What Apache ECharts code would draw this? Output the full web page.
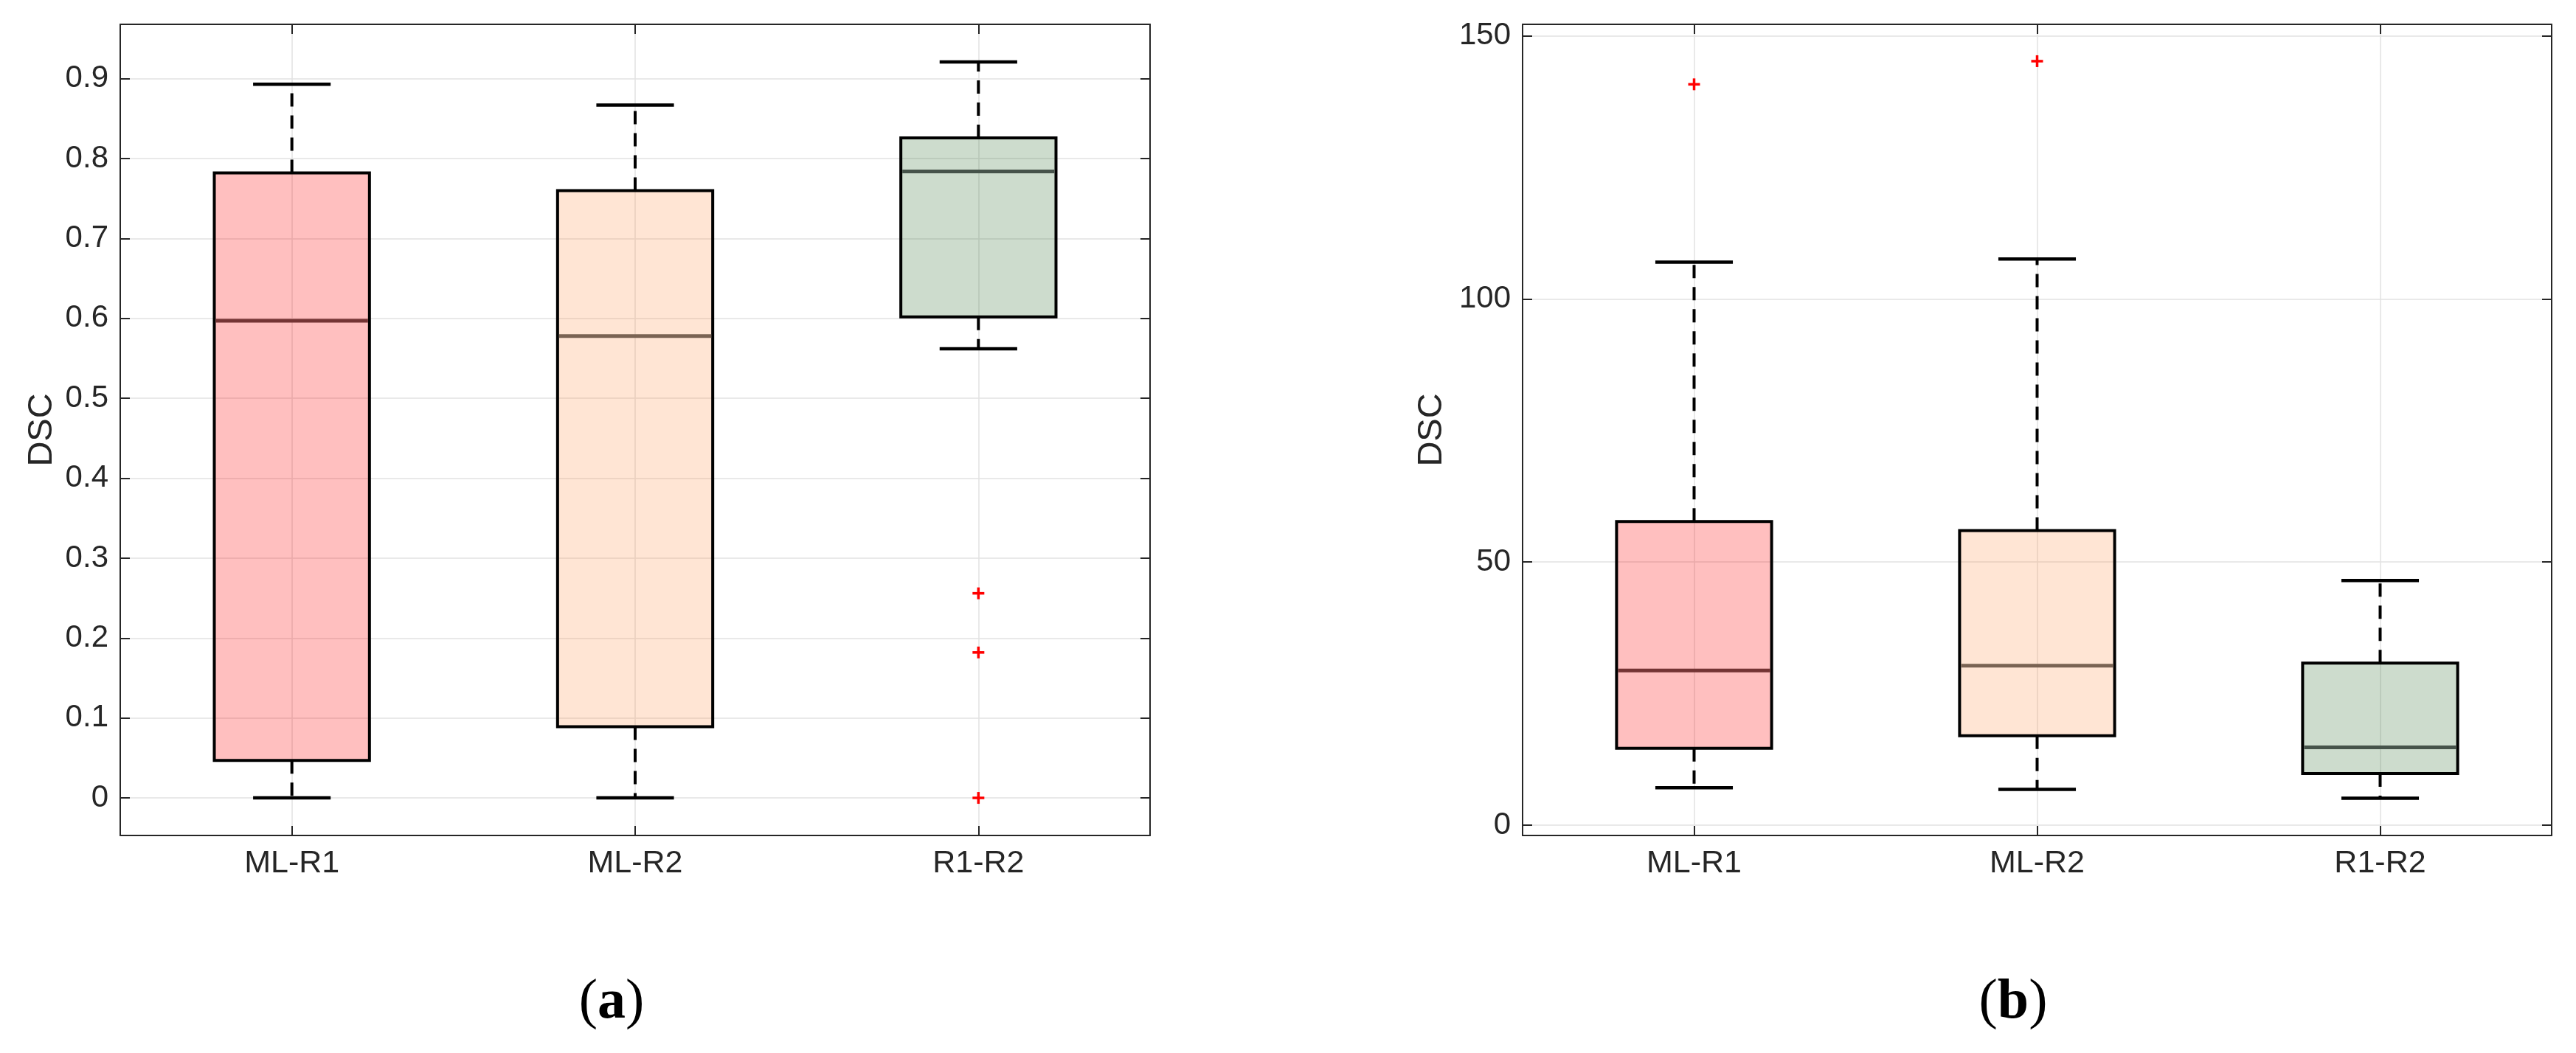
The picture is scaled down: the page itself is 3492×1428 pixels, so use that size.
<!DOCTYPE html>
<html><head><meta charset="utf-8">
<script src="https://cdn.jsdelivr.net/npm/echarts@6/dist/echarts.min.js"></script>
<style>html,body{margin:0;padding:0;background:#fff}#c{width:3492px;height:1428px}</style>
</head><body><div id="c"></div>
<script>
// ---------- data ----------
const categories = ['ML-R1', 'ML-R2', 'R1-R2'];
const panelLetters = ['a', 'b'];
const yAxisName = 'DSC';

// panel (a)
const aMin    = [0.000, 0.000, 0.562];
const aQ1     = [0.047, 0.089, 0.602];
const aMedian = [0.597, 0.578, 0.784];
const aQ3     = [0.782, 0.760, 0.826];
const aMax    = [0.893, 0.867, 0.921];
const aOutliers = [[], [], [0.256, 0.182, 0.000]];
const aRange = [-0.047, 0.968];

// panel (b)
const bMin    = [7.1, 6.8, 5.1];
const bQ1     = [14.6, 17.0, 9.8];
const bMedian = [29.4, 30.3, 14.8];
const bQ3     = [57.7, 56.0, 30.8];
const bMax    = [107.0, 107.6, 46.5];
const bOutliers = [[140.8], [145.2], []];
const bRange = [-1.96, 152.2];

// ---------- styles ----------
const boxFill = ['rgba(255,0,0,0.25)', 'rgba(255,151,83,0.25)', 'rgba(55,115,55,0.25)'];
const medianColor = ['#743434', '#7a6353', '#46534a'];
const axisColor = '#262626';
const gridColor = '#e2e2e2';
const sansFont = 'Liberation Sans, Arial, Helvetica, sans-serif';

function boxData(mn, q1, md, q3, mx) {
  return categories.map((c, i) => [i + 1, mn[i], q1[i], md[i], q3[i], mx[i]]);
}
function outlierData(o) {
  const r = [];
  o.forEach((arr, i) => arr.forEach(v => r.push([i + 1, v])));
  return r;
}

function renderBox(params, api) {
  const i = params.dataIndex;
  const x = api.value(0);
  const pMin = api.coord([x, api.value(1)]);
  const pQ1 = api.coord([x, api.value(2)]);
  const pMd = api.coord([x, api.value(3)]);
  const pQ3 = api.coord([x, api.value(4)]);
  const pMax = api.coord([x, api.value(5)]);
  const band = api.size([1, 0])[0];
  const bw = band * 0.452;
  const cw = bw * 0.5;
  const cx = pMd[0];
  const dash = { stroke: '#000', lineWidth: 4, lineDash: [18, 12] };
  const cap = { stroke: '#000', lineWidth: 4.5 };
  return {
    type: 'group',
    children: [
      { type: 'line', shape: { x1: cx, y1: pQ3[1], x2: cx, y2: pMax[1] }, style: dash },
      { type: 'line', shape: { x1: cx, y1: pQ1[1], x2: cx, y2: pMin[1] }, style: dash },
      { type: 'line', shape: { x1: cx - cw / 2, y1: pMax[1], x2: cx + cw / 2, y2: pMax[1] }, style: cap },
      { type: 'line', shape: { x1: cx - cw / 2, y1: pMin[1], x2: cx + cw / 2, y2: pMin[1] }, style: cap },
      { type: 'rect', shape: { x: cx - bw / 2, y: pQ3[1], width: bw, height: pQ1[1] - pQ3[1] },
        style: { fill: boxFill[i], stroke: '#000', lineWidth: 4 } },
      { type: 'line', shape: { x1: cx - bw / 2 + 2, y1: pMd[1], x2: cx + bw / 2 - 2, y2: pMd[1] },
        style: { stroke: medianColor[i], lineWidth: 5 } }
    ]
  };
}

function renderPlus(params, api) {
  const p = api.coord([api.value(0), api.value(1)]);
  const h = 8;
  const st = { stroke: '#ff0000', lineWidth: 3.5 };
  return {
    type: 'group',
    children: [
      { type: 'line', shape: { x1: p[0] - h, y1: p[1], x2: p[0] + h, y2: p[1] }, style: st },
      { type: 'line', shape: { x1: p[0], y1: p[1] - h, x2: p[0], y2: p[1] + h }, style: st }
    ]
  };
}

const lineSt = { color: axisColor, width: 2 };
const tickSt = { show: true, inside: true, length: 13, lineStyle: { color: axisColor, width: 2 } };

function xAxes(g) {
  return [
    { type: 'value', gridIndex: g, position: 'bottom', min: 0.5, max: 3.5, splitNumber: 3,
      axisLine: { show: true, onZero: false, lineStyle: lineSt }, axisTick: tickSt,
      axisLabel: { showMinLabel: false, showMaxLabel: false, margin: 17, fontSize: 43, color: axisColor,
        fontFamily: sansFont, formatter: v => (Number.isInteger(v) ? categories[v - 1] : '') },
      splitLine: { show: true, lineStyle: { color: gridColor, width: 1.5 } } },
    { type: 'value', gridIndex: g, position: 'top', min: 0.5, max: 3.5, splitNumber: 3,
      axisLine: { show: true, onZero: false, lineStyle: lineSt }, axisTick: tickSt,
      axisLabel: { show: false }, splitLine: { show: false } }
  ];
}
function yAxes(g, range, split, gap) {
  return [
    { type: 'value', gridIndex: g, position: 'left', min: range[0], max: range[1], splitNumber: split,
      name: yAxisName, nameLocation: 'middle', nameGap: gap, nameRotate: 90,
      nameTextStyle: { fontSize: 47, color: axisColor, fontFamily: sansFont },
      axisLine: { show: true, onZero: false, lineStyle: lineSt }, axisTick: tickSt,
      axisLabel: { showMinLabel: false, showMaxLabel: false, margin: 16, fontSize: 42, color: axisColor,
        fontFamily: sansFont },
      splitLine: { show: true, lineStyle: { color: gridColor, width: 1.5 } } },
    { type: 'value', gridIndex: g, position: 'right', min: range[0], max: range[1], splitNumber: split,
      axisLine: { show: true, onZero: false, lineStyle: lineSt }, axisTick: tickSt,
      axisLabel: { show: false }, splitLine: { show: false } }
  ];
}

const chart = echarts.init(document.getElementById('c'), null, { renderer: 'canvas' });
const option = {
  backgroundColor: '#ffffff',
  animation: false,
  grid: [
    { left: 163, right: 1933, top: 33, bottom: 295, containLabel: false },
    { left: 2064, right: 33, top: 33, bottom: 295, containLabel: false }
  ],
  xAxis: [...xAxes(0), ...xAxes(1)],
  yAxis: [...yAxes(0, aRange, 10, 82), ...yAxes(1, bRange, 3, 99)],
  series: [
    { type: 'custom', xAxisIndex: 0, yAxisIndex: 0, renderItem: renderBox,
      encode: { x: 0, y: [1, 2, 3, 4, 5] }, data: boxData(aMin, aQ1, aMedian, aQ3, aMax), z: 3 },
    { type: 'custom', xAxisIndex: 0, yAxisIndex: 0, renderItem: renderPlus,
      encode: { x: 0, y: 1 }, data: outlierData(aOutliers), z: 4 },
    { type: 'custom', xAxisIndex: 2, yAxisIndex: 2, renderItem: renderBox,
      encode: { x: 0, y: [1, 2, 3, 4, 5] }, data: boxData(bMin, bQ1, bMedian, bQ3, bMax), z: 3 },
    { type: 'custom', xAxisIndex: 2, yAxisIndex: 2, renderItem: renderPlus,
      encode: { x: 0, y: 1 }, data: outlierData(bOutliers), z: 4 }
  ],
  graphic: panelLetters.map((l, k) => ({
    type: 'text',
    x: k === 0 ? 829 : 2729,
    y: 1360,
    style: {
      text: '{p|(}{b|' + l + '}{p|)}',
      align: 'center', verticalAlign: 'middle',
      rich: {
        p: { fontFamily: 'Liberation Serif, serif', fontSize: 76, fill: '#000' },
        b: { fontFamily: 'Liberation Serif, serif', fontSize: 76, fontWeight: 'bold', fill: '#000' }
      }
    }
  }))
};
chart.setOption(option);
</script>
</body></html>
